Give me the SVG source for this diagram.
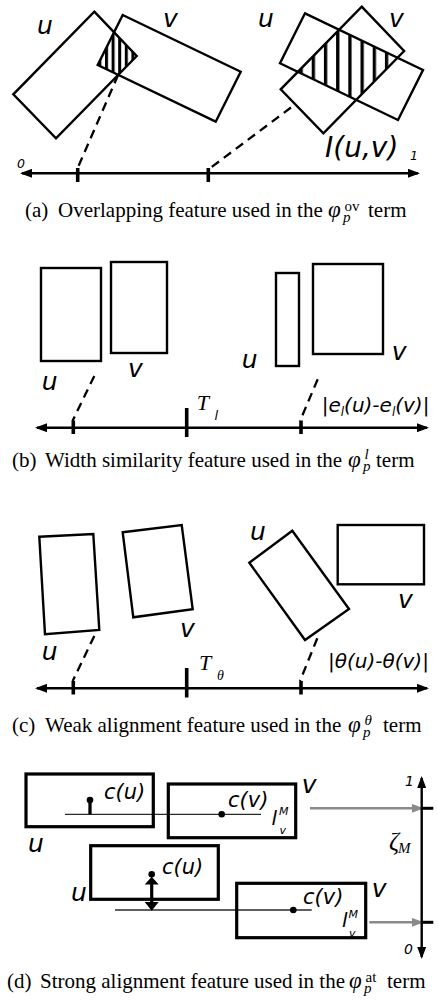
<svg xmlns="http://www.w3.org/2000/svg" width="438" height="1001" viewBox="0 0 438 1001">
<style>
.box{fill:none;stroke:#000;stroke-width:2.4;stroke-linejoin:miter}
.boxd{fill:none;stroke:#000;stroke-width:3.2}
.dash{fill:none;stroke:#000;stroke-width:2.3;stroke-dasharray:9 6}
.axis{fill:none;stroke:#000;stroke-width:2.4}
.tick{stroke:#000;stroke-width:3.6}
.thin{stroke:#2a2a2a;stroke-width:1.3}
.gray{stroke:#8a8a8a;stroke-width:2.6}
.lbl{font-family:"DejaVu Sans",Verdana,sans-serif;font-style:italic;font-size:25px;fill:#000}
.cap{font-family:"Liberation Serif","Times New Roman",serif;font-size:21px;fill:#000}
.mi{font-style:italic}
.phi{font-size:23px}
.sm{font-size:15px}
</style>
<defs>
<marker id="ah" viewBox="0 0 12 9" refX="10" refY="4.5" markerWidth="12" markerHeight="9" markerUnits="userSpaceOnUse" orient="auto-start-reverse"><path d="M0,0 L12,4.5 L0,9 z" fill="#000"/></marker>
<marker id="ahg" viewBox="0 0 12 9" refX="10" refY="4.5" markerWidth="12" markerHeight="9" markerUnits="userSpaceOnUse" orient="auto"><path d="M0,0 L12,4.5 L0,9 z" fill="#8a8a8a"/></marker>
<pattern id="hatchL" patternUnits="userSpaceOnUse" x="105" y="0" width="6.6" height="10"><rect x="0" y="0" width="3" height="10" fill="#000"/></pattern>
<pattern id="hatchR" patternUnits="userSpaceOnUse" x="311.7" y="0" width="12.2" height="10"><rect x="0" y="0" width="3.3" height="10" fill="#000"/></pattern>
<clipPath id="clipL"><polygon points="94.3,11.7 136.7,56 56,138.3 13.3,94.3"/></clipPath>
<clipPath id="clipR"><polygon points="361.7,6.7 404.1,51 323.4,133.3 280.7,89.3"/></clipPath>
</defs>

<!-- Panel (a) -->
<g id="a-hatch">
<polygon points="122.7,15 240.7,71.7 215.7,121.7 97.7,65" fill="url(#hatchL)" clip-path="url(#clipL)"/>
<polygon points="305,13.3 423,70 398,120 280,63.3" fill="url(#hatchR)" clip-path="url(#clipR)"/>
</g>
<g id="a-u1"><polygon class="box" points="94.3,11.7 136.7,56 56,138.3 13.3,94.3"/><text class="lbl" x="37" y="34">u</text></g>
<g id="a-v1"><polygon class="box" points="122.7,15 240.7,71.7 215.7,121.7 97.7,65"/><text class="lbl" x="163" y="27">v</text></g>
<g id="a-u2"><polygon class="box" points="361.7,6.7 404.1,51 323.4,133.3 280.7,89.3"/><text class="lbl" x="258" y="27">u</text></g>
<g id="a-v2"><polygon class="box" points="305,13.3 423,70 398,120 280,63.3"/><text class="lbl" x="389" y="27">v</text></g>
<g id="a-axis">
<line class="axis" x1="22" y1="173.3" x2="418" y2="173.3" marker-start="url(#ah)" marker-end="url(#ah)"/>
<line class="tick" x1="77.7" y1="168" x2="77.7" y2="182"/>
<line class="tick" x1="208.3" y1="168" x2="208.3" y2="182"/>
<text class="lbl" x="17" y="168" style="font-size:12.5px">0</text>
<text class="lbl" x="410" y="160" style="font-size:12.5px">1</text>
<text class="lbl" x="325" y="157" style="font-size:28px">I(u,v)</text>
</g>
<g id="a-connectors">
<line class="dash" x1="118.1" y1="75" x2="77.7" y2="168"/>
<line class="dash" x1="291" y1="107.5" x2="209" y2="169"/>
</g>
<g id="cap-a">
<text class="cap" x="25" y="217">(a)</text>
<text class="cap" x="58" y="217">Overlapping feature used in the</text>
<text class="cap mi phi" x="328" y="217">φ</text>
<text class="cap sm" x="344.5" y="210.5">ov</text>
<text class="cap sm mi" x="343" y="221.5">p</text>
<text class="cap" x="368" y="217">term</text>
</g>

<!-- Panel (b) -->
<g id="b-u1"><rect class="box" x="41" y="268" width="60" height="93"/><text class="lbl" x="41.7" y="390">u</text></g>
<g id="b-v1"><rect class="box" x="111" y="262" width="56" height="91"/><text class="lbl" x="128" y="377">v</text></g>
<g id="b-u2"><rect class="box" x="276" y="273" width="23" height="93"/><text class="lbl" x="241.7" y="368">u</text></g>
<g id="b-v2"><rect class="box" x="313" y="264" width="70" height="90"/><text class="lbl" x="391.7" y="360">v</text></g>
<g id="b-axis">
<line class="axis" x1="37" y1="427.7" x2="427" y2="427.7" marker-start="url(#ah)" marker-end="url(#ah)"/>
<line class="tick" x1="73.3" y1="420.5" x2="73.3" y2="434"/>
<line class="tick" x1="186.7" y1="408" x2="186.7" y2="437"/>
<line class="tick" x1="301" y1="420.5" x2="301" y2="434"/>
<text class="cap mi" x="196.7" y="410" style="font-size:22px">T</text>
<text class="lbl" x="214.5" y="420" style="font-size:13px">l</text>
<text class="lbl" x="321.7" y="412" style="font-size:20px">|e<tspan style="font-size:12px" dy="4">l</tspan><tspan dy="-4">(u)-e</tspan><tspan style="font-size:12px" dy="4">l</tspan><tspan dy="-4">(v)|</tspan></text>
</g>
<g id="b-connectors">
<line class="dash" x1="94.3" y1="376" x2="72.5" y2="421"/>
<line class="dash" x1="317.7" y1="379.3" x2="300" y2="421"/>
</g>
<g id="cap-b">
<text class="cap" x="12" y="466.7">(b)</text>
<text class="cap" x="45" y="466.7">Width similarity feature used in the</text>
<text class="cap mi phi" x="348" y="466.7">φ</text>
<text class="cap sm mi" x="364.5" y="458.5">l</text>
<text class="cap sm mi" x="363" y="471">p</text>
<text class="cap" x="376" y="466.7">term</text>
</g>

<!-- Panel (c) -->
<g id="c-u1"><polygon class="box" points="39.3,536.7 93.3,534 99.3,630 45,634.3"/><text class="lbl" x="41.7" y="660">u</text></g>
<g id="c-v1"><polygon class="box" points="122.7,532.3 181.7,525 192.7,609.3 133.3,617.3"/><text class="lbl" x="180" y="637">v</text></g>
<g id="c-u2"><polygon class="box" points="292.3,530.7 349,609 305,640 249.3,562.7"/><text class="lbl" x="250" y="540">u</text></g>
<g id="c-v2"><rect class="box" x="337.7" y="525" width="86.3" height="59.3"/><text class="lbl" x="398" y="608">v</text></g>
<g id="c-axis">
<line class="axis" x1="37" y1="688.3" x2="427" y2="688.3" marker-start="url(#ah)" marker-end="url(#ah)"/>
<line class="tick" x1="73.3" y1="681" x2="73.3" y2="694.5"/>
<line class="tick" x1="186.7" y1="668" x2="186.7" y2="697.5"/>
<line class="tick" x1="301" y1="681" x2="301" y2="694.5"/>
<text class="cap mi" x="199" y="670" style="font-size:22px">T</text>
<text class="cap mi" x="217" y="680" style="font-size:14px">θ</text>
<text class="lbl" x="328" y="668" style="font-size:20px">|θ(u)-θ(v)|</text>
</g>
<g id="c-connectors">
<line class="dash" x1="94.3" y1="636" x2="72.7" y2="681"/>
<line class="dash" x1="317.3" y1="638.3" x2="300" y2="681"/>
</g>
<g id="cap-c">
<text class="cap" x="12" y="731.7">(c)</text>
<text class="cap" x="45" y="731.7">Weak alignment feature used in the</text>
<text class="cap mi phi" x="348" y="731.7">φ</text>
<text class="cap sm mi" x="364.5" y="725">θ</text>
<text class="cap sm mi" x="363" y="736.5">p</text>
<text class="cap" x="383" y="731.7">term</text>
</g>

<!-- Panel (d) -->
<g id="d-connectors">
<line class="thin" x1="65" y1="814.3" x2="261" y2="814.3"/>
<line class="thin" x1="115" y1="910" x2="311.7" y2="910"/>
<line class="gray" x1="310" y1="808.3" x2="421.7" y2="808.3" marker-end="url(#ahg)"/>
<line class="gray" x1="369.3" y1="922.3" x2="421.7" y2="922.3" marker-end="url(#ahg)"/>
</g>
<g id="d-u1">
<rect class="boxd" x="26" y="774" width="127.3" height="52.7"/>
<line x1="90" y1="800" x2="90" y2="814.3" stroke="#000" stroke-width="3.3"/>
<circle cx="90" cy="800" r="3.3" fill="#000"/>
<text class="lbl" x="104" y="799" style="font-size:21px">c(u)</text>
<text class="lbl" x="28" y="852">u</text>
</g>
<g id="d-v1">
<rect class="boxd" x="168.3" y="784" width="127.4" height="53.7"/>
<circle cx="221.7" cy="814.3" r="3.3" fill="#000"/>
<text class="lbl" x="228" y="807" style="font-size:21px">c(v)</text>
<text class="lbl" x="271.5" y="825" style="font-size:20px">l</text>
<text class="lbl" x="279" y="815" style="font-size:11px">M</text>
<text class="lbl" x="279.5" y="834" style="font-size:11px">v</text>
<text class="lbl" x="301.7" y="793">v</text>
</g>
<g id="d-u2">
<rect class="boxd" x="90.7" y="845.7" width="127.6" height="53.6"/>
<circle cx="151.7" cy="874.3" r="3.3" fill="#000"/>
<line x1="151.7" y1="882" x2="151.7" y2="903" stroke="#000" stroke-width="3.2"/>
<path d="M151.7,876.8 L158.7,884.5 L144.7,884.5 z M151.7,910.7 L158.7,902 L144.7,902 z" fill="#000"/>
<text class="lbl" x="162" y="874" style="font-size:21px">c(u)</text>
<text class="lbl" x="71" y="901">u</text>
</g>
<g id="d-v2">
<rect class="boxd" x="236.7" y="883.3" width="129" height="54.4"/>
<circle cx="293.3" cy="910" r="3.3" fill="#000"/>
<text class="lbl" x="303" y="904" style="font-size:21px">c(v)</text>
<text class="lbl" x="342" y="926.7" style="font-size:20px">l</text>
<text class="lbl" x="348.5" y="918" style="font-size:11px">M</text>
<text class="lbl" x="349" y="937" style="font-size:11px">v</text>
<text class="lbl" x="371.7" y="897">v</text>
</g>
<g id="d-axis">
<line class="axis" x1="421.7" y1="778" x2="421.7" y2="957" marker-start="url(#ah)" marker-end="url(#ah)"/>
<line x1="421.7" y1="808.3" x2="433.3" y2="808.3" stroke="#000" stroke-width="3"/>
<line x1="421.7" y1="922.3" x2="433.3" y2="922.3" stroke="#000" stroke-width="3"/>
<text class="lbl" x="405" y="786" style="font-size:14px">1</text>
<text class="lbl" x="404" y="954" style="font-size:14px">0</text>
<text class="cap mi" x="389" y="849.5" style="font-size:25px">ζ</text>
<text class="cap mi" x="398" y="853" style="font-size:15px">M</text>
</g>
<g id="cap-d">
<text class="cap" x="7" y="988">(d)</text>
<text class="cap" x="40" y="988">Strong alignment feature used in the</text>
<text class="cap mi phi" x="349" y="988">φ</text>
<text class="cap sm" x="365.5" y="981.5">at</text>
<text class="cap sm mi" x="364" y="992.5">p</text>
<text class="cap" x="387" y="988">term</text>
</g>
</svg>
